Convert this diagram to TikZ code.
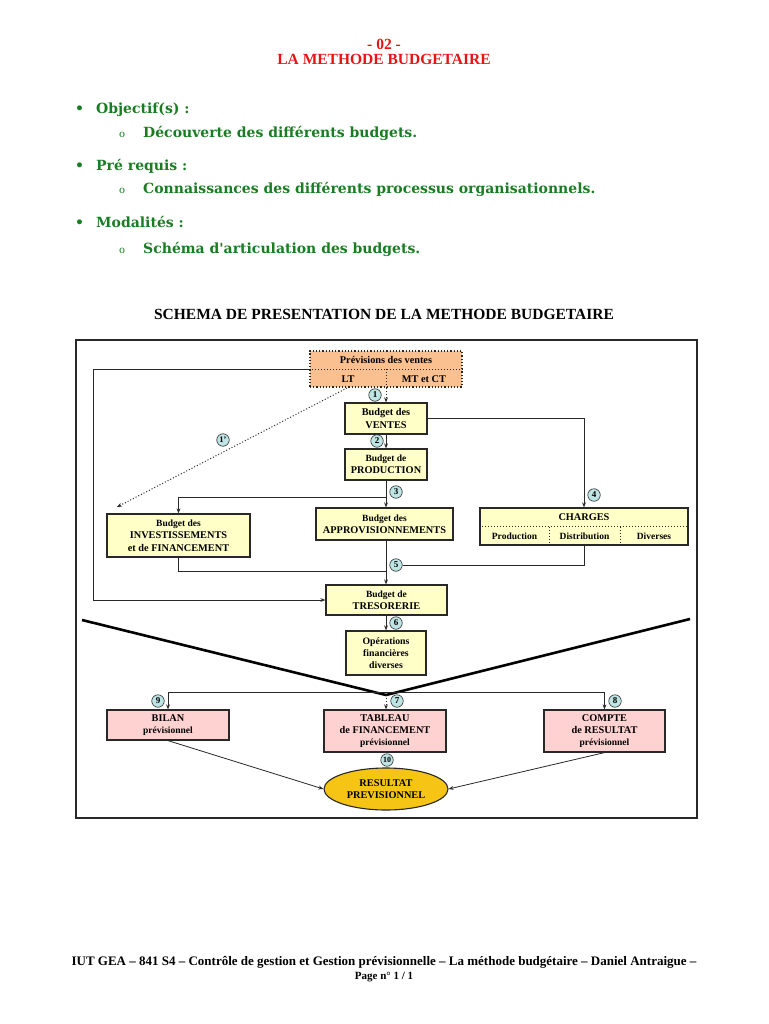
\documentclass[tikz,border=0pt]{standalone}
\usepackage{fontspec}
\setmainfont{Liberation Serif}
\newfontfamily\greenf{DejaVu Serif}
\usetikzlibrary{arrows.meta,shapes.geometric}
\definecolor{titlered}{RGB}{230,20,20}
\definecolor{textgreen}{RGB}{25,125,35}
\definecolor{boxyellow}{RGB}{255,255,200}
\definecolor{boxorange}{RGB}{250,192,143}
\definecolor{boxpink}{RGB}{255,210,210}
\definecolor{gold}{RGB}{245,196,20}
\definecolor{numcyan}{RGB}{190,228,228}
\definecolor{frame}{RGB}{40,40,40}
\newcommand{\fs}[1]{\fontsize{#1}{\dimexpr #1pt*12/10\relax}\selectfont}
\begin{document}
\begin{tikzpicture}[x=1pt,y=-1pt,
  box/.style={draw=frame, line width=1.2pt, fill=boxyellow, align=center, inner sep=0pt,
    font=\bfseries\fs{10.3}},
  pinkbox/.style={box, fill=boxpink},
  num/.style={circle, draw=frame, line width=0.6pt, fill=numcyan, minimum size=12.5pt, inner sep=0pt,
    font=\bfseries\fs{9}},
  conn/.style={line width=1pt, draw=frame},
  arr/.style={conn, -{Stealth[length=5pt,width=3.8pt]}},
  darr/.style={arr, dotted},
  vline/.style={line width=2.6pt, draw=black},
  bul/.style={anchor=base west, text=textgreen, font=\greenf\bfseries\fs{14}, inner sep=0pt},
  lbl/.style={font=\bfseries\fs{10.3}, inner sep=0pt}
]
\useasboundingbox (0,0) rectangle (768,1024);
\fill[white] (0,0) rectangle (768,1024);

% heading
\node[text=titlered, font=\bfseries\fs{15.5}] (t1) at (384,44) {- 02 -};
\node[text=titlered, font=\bfseries\fs{15.5}] (t2) at (384,59) {LA METHODE BUDGETAIRE};

% bullets
\node[bul] (b1) at (75,114) {•};
\node[bul] (l1) at (96,114) {Objectif(s) :};
\node[bul, font=\greenf\fs{10}] (b2) at (119,138) {o};
\node[bul] (l2) at (143,138) {Découverte des différents budgets.};
\node[bul] (b3) at (75,171) {•};
\node[bul] (l3) at (96,171) {Pré requis :};
\node[bul, font=\greenf\fs{10}] (b4) at (119,194) {o};
\node[bul] (l4) at (143,194) {Connaissances des différents processus organisationnels.};
\node[bul] (b5) at (75,227) {•};
\node[bul] (l5) at (96,227) {Modalités :};
\node[bul, font=\greenf\fs{10}] (b6) at (119,253) {o};
\node[bul] (l6) at (143,253) {Schéma d'articulation des budgets.};

\node[font=\bfseries\fs{15.5}] (sch) at (384,314) {SCHEMA DE PRESENTATION DE LA METHODE BUDGETAIRE};

% frame
\draw[line width=2pt, draw=frame] (76,340) rectangle (697,818);

% prévisions
\node[box, fill=boxorange, draw=frame, dotted, minimum width=152pt, minimum height=36pt] (prev) at (386,369) {};
\draw[frame, dotted, line width=1pt] (prev.west) -- (prev.east);
\draw[frame, dotted, line width=1pt] (prev.center) -- (prev.south);
\node[lbl] (pt) at (386,360) {Prévisions des ventes};
\node[lbl] (plt) at (348,379) {LT};
\node[lbl] (pmt) at (424,379) {MT et CT};

% boxes
\node[box, minimum width=82pt, minimum height=31pt] (ventes) at (386,418.5) {Budget des\\VENTES};
\node[box, minimum width=82pt, minimum height=31pt] (prod) at (386,464.5) {{\fs{9.5}Budget de}\\PRODUCTION};
\node[box, minimum width=137pt, minimum height=32pt] (appro) at (384.5,524) {{\fs{9.5}Budget des}\\APPROVISIONNEMENTS};
\node[box, minimum width=143pt, minimum height=43pt] (invest) at (178.5,535.5) {{\fs{9.5}Budget des}\\INVESTISSEMENTS\\et de FINANCEMENT};
\node[box, minimum width=208pt, minimum height=37pt] (charges) at (584,526.5) {};
\draw[frame, dotted, line width=1pt] (charges.west) -- (charges.east);
\draw[frame, dotted, line width=1pt] (549,526.5) -- (549,545);
\draw[frame, dotted, line width=1pt] (620,526.5) -- (620,545);
\node[lbl] (ch) at (584,517) {CHARGES};
\node[lbl, font=\bfseries\fs{9.5}] (chp) at (514.5,536.5) {Production};
\node[lbl, font=\bfseries\fs{9.5}] (chd) at (584.5,536.5) {Distribution};
\node[lbl, font=\bfseries\fs{9.5}] (chv) at (654,536.5) {Diverses};
\node[box, minimum width=121pt, minimum height=30pt] (treso) at (386.5,600) {{\fs{9.5}Budget de}\\TRESORERIE};
\node[box, minimum width=80pt, minimum height=44pt, font=\bfseries\fs{9.8}] (ops) at (386,653) {Opérations\\financières\\diverses};
\node[pinkbox, minimum width=122pt, minimum height=30pt] (bilan) at (168,725) {BILAN\\{\fs{9.5}prévisionnel}};
\node[pinkbox, minimum width=122pt, minimum height=42pt] (tableau) at (385,731) {TABLEAU\\de FINANCEMENT\\{\fs{9.5}prévisionnel}};
\node[pinkbox, minimum width=121pt, minimum height=42pt] (compte) at (604.5,731) {COMPTE\\de RESULTAT\\{\fs{9.5}prévisionnel}};
\node[ellipse, draw=frame, line width=1.1pt, fill=gold, minimum width=124pt, minimum height=42pt, inner sep=0pt, align=center, font=\bfseries\fs{10.3}] (res) at (386,789) {RESULTAT\\PREVISIONNEL};

% coordinates
\coordinate (lt) at (347,388);
\coordinate (e1) at (117,507);
\coordinate (j3) at (386,497);
\coordinate (j5) at (386,571);
\coordinate (loop) at (93,369);
\coordinate (vl) at (82,620);
\coordinate (vb) at (386,695);
\coordinate (vr) at (690,619);
\coordinate (h) at (386,692);

% connectors
\draw[darr] (prev.south) -- (ventes.north);
\draw[arr] (ventes.south) -- (prod.north);
\draw[arr] (prod.south) -- (prod.south |- appro.north);
\draw[arr] (j3) -| (invest.north);
\draw[arr] (ventes.east) -| (charges.north);
\draw[arr] (appro.south -| prod.south) -- (treso.north -| prod.south);
\draw[conn] (invest.south) |- (j5);
\draw[arr] (prev.west) -- (loop) |- (treso.west);
\draw[arr] (treso.south -| prod.south) -- (ops.north);
\draw[darr] (lt) -- (e1);
\draw[vline] (vl) -- (vb) -- (vr);
\draw[arr] (h) -| (bilan.north);
\draw[arr] (h) -| (compte.north);
\draw[darr] (vb) -- (tableau.north -| vb);
\draw[arr, line width=0.8pt] (bilan.south) -- (res.west);
\draw[arr, line width=0.8pt] (compte.south) -- (res.east);

% numbers
\node[num] (n1) at (375,395) {1};
\node[num] (n2) at (377,441) {2};
\node[num] (n3) at (396,492) {3};
\node[num] (n4) at (594,495) {4};
\node[num] (n5) at (396,565) {5};
\node[num] (n6) at (396,623) {6};
\node[num] (n7) at (397,701) {7};
\node[num] (n8) at (615,701) {8};
\node[num] (n9) at (158,701) {9};
\node[num, font=\bfseries\fs{8}] (n10) at (387,760) {10};
\node[num, font=\bfseries\fs{8.5}] (n1p) at (223,440) {1’};
\draw[conn] (charges.south) |- (n5.east);

% footer
\node[font=\bfseries\fs{13}] (f1) at (384,962) {IUT GEA – 841 S4 – Contrôle de gestion et Gestion prévisionnelle – La méthode budgétaire – Daniel Antraigue –};
\node[font=\bfseries\fs{11}] (f2) at (384,977) {Page n° 1 / 1};
\end{tikzpicture}
\end{document}
